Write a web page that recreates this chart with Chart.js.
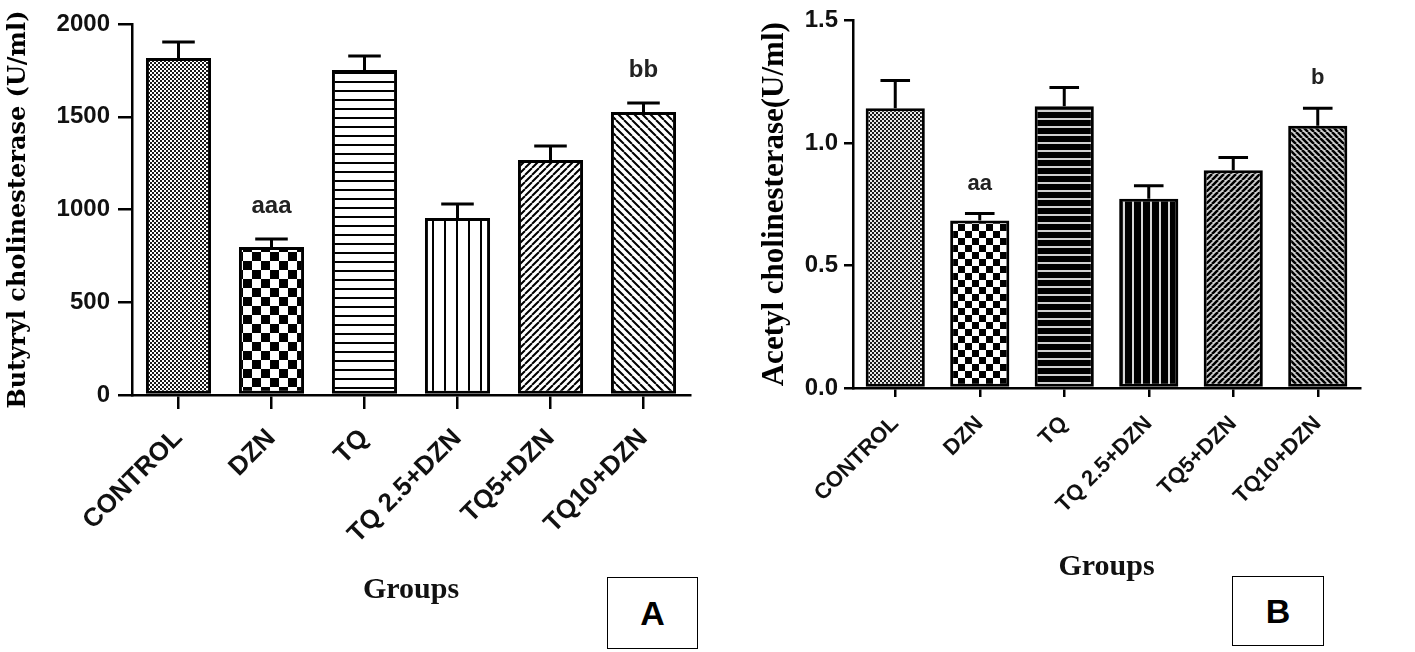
<!DOCTYPE html>
<html><head><meta charset="utf-8">
<script src="https://cdn.jsdelivr.net/npm/chart.js@4.4.0/dist/chart.umd.min.js"></script>
<style>
html,body{margin:0;padding:0;background:#fff;width:1415px;height:652px;overflow:hidden;}
#cA{position:absolute;left:0;top:0;}
#cB{position:absolute;left:720px;top:0;}
.box{position:absolute;border:1.5px solid #000;box-sizing:border-box;font:bold 34px "Liberation Sans",Arial,sans-serif;display:flex;align-items:center;justify-content:center;background:#fff;color:#000;}
#boxA{left:607px;top:577px;width:91px;height:72px;}
#boxB{left:1232px;top:576px;width:92px;height:70px;}
</style></head><body>
<canvas id="cA" width="700" height="652"></canvas>
<canvas id="cB" width="695" height="652"></canvas>
<div class="box" id="boxA">A</div>
<div class="box" id="boxB">B</div>
<script>
// ---- data ----
const categories = ["CONTROL", "DZN", "TQ", "TQ 2.5+DZN", "TQ5+DZN", "TQ10+DZN"];
const butyrylMean = [1817, 798, 1752, 954, 1267, 1526];
const butyrylSEM  = [86, 43, 75, 76, 75, 48];
const butyrylSig  = ["", "aaa", "", "", "", "bb"];
const butyrylTicks = [0, 500, 1000, 1500, 2000];
const acetylMean = [1.142, 0.683, 1.150, 0.772, 0.889, 1.070];
const acetylSEM  = [0.113, 0.029, 0.076, 0.053, 0.052, 0.072];
const acetylSig  = ["", "aa", "", "", "", "b"];
const acetylTicks = [0, 0.5, 1.0, 1.5];
const acetylTickLabels = ["0.0", "0.5", "1.0", "1.5"];

// ---- patterns ----
function tile(w, h, draw) {
  const c = document.createElement('canvas'); c.width = w; c.height = h;
  const x = c.getContext('2d'); draw(x, w, h);
  return document.getElementById('cA').getContext('2d').createPattern(c, 'repeat');
}
function checker(cell, fg, bg) {
  return tile(cell * 2, cell * 2, (x) => { x.fillStyle = bg; x.fillRect(0, 0, cell * 2, cell * 2); x.fillStyle = fg; x.fillRect(0, 0, cell, cell); x.fillRect(cell, cell, cell, cell); });
}
function hlines(p, lw, fg, bg) {
  return tile(4, p, (x) => { x.fillStyle = bg; x.fillRect(0, 0, 4, p); x.fillStyle = fg; x.fillRect(0, 0, 4, lw); });
}
function vlines(p, lw, fg, bg) {
  return tile(p, 4, (x) => { x.fillStyle = bg; x.fillRect(0, 0, p, 4); x.fillStyle = fg; x.fillRect(0, 0, lw, 4); });
}
function diag(p, lw, dir, fg, bg) {
  return tile(p, p, (x) => {
    x.fillStyle = bg; x.fillRect(0, 0, p, p);
    x.strokeStyle = fg; x.lineWidth = lw; x.beginPath();
    for (let k = -1; k <= 1; k++) {
      if (dir === '/') { x.moveTo(k * p, p); x.lineTo(k * p + p, 0); }
      else { x.moveTo(k * p, 0); x.lineTo(k * p + p, p); }
    }
    x.stroke();
  });
}
const W = '#ffffff', K = '#000000';
const fillsA = [checker(2, '#1a1a1a', W), checker(9, K, W), hlines(9, 2, K, W), vlines(12, 2, K, W), diag(7, 2, '/', K, W), diag(8, 2, '\\', K, W)];
const fillsB = [checker(2, '#1a1a1a', '#e8e8e8'), checker(7, K, W), hlines(8, 6, K, '#d0d0d0'), vlines(9, 7, K, '#d8d8d8'), diag(6, 2.5, '/', K, '#cfcfcf'), diag(6, 2.5, '\\', K, '#cfcfcf')];

// ---- error bars + significance letters ----
const errPlugin = {
  id: 'errbars',
  afterDatasetsDraw(chart, args, o) {
    const ctx = chart.ctx, meta = chart.getDatasetMeta(0), ys = chart.scales.y;
    const data = chart.data.datasets[0].data;
    ctx.save();
    meta.data.forEach((bar, i) => {
      const top = ys.getPixelForValue(data[i] + o.sem[i]);
      const base = ys.getPixelForValue(data[i]);
      const hw = bar.width * o.capRatio / 2;
      ctx.strokeStyle = '#000'; ctx.lineWidth = o.lw; ctx.lineCap = 'butt';
      ctx.beginPath(); ctx.moveTo(bar.x, base); ctx.lineTo(bar.x, top);
      ctx.moveTo(bar.x - hw, top); ctx.lineTo(bar.x + hw, top); ctx.stroke();
      if (o.sig[i]) {
        ctx.fillStyle = '#222'; ctx.font = o.sigFont; ctx.textAlign = 'center'; ctx.textBaseline = 'middle';
        ctx.fillText(o.sig[i], bar.x, top - o.sigOffset);
      }
    });
    ctx.restore();
  }
};

function makeChart(id, p) {
  return new Chart(document.getElementById(id), {
    type: 'bar',
    data: { labels: categories, datasets: [{ data: p.mean, backgroundColor: p.fills, borderColor: '#000', borderWidth: 3, borderSkipped: false, barPercentage: 0.7, categoryPercentage: 1.0 }] },
    plugins: [errPlugin],
    options: {
      responsive: false, animation: false, devicePixelRatio: 1,
      layout: { padding: p.pad },
      plugins: { legend: { display: false }, tooltip: { enabled: false },
        errbars: { sem: p.sem, sig: p.sig, capRatio: 0.5, lw: 3, sigOffset: p.sigOffset, sigFont: p.sigFont } },
      scales: {
        x: {
          grid: { offset: false, drawOnChartArea: false, drawTicks: true, tickLength: p.xTick, color: '#000', lineWidth: 2.5 },
          border: { display: true, color: '#000', width: 2.5 },
          ticks: { autoSkip: false, minRotation: p.rot, maxRotation: p.rot, padding: p.xPad, color: '#111', font: { family: '"Liberation Sans", Arial, sans-serif', size: p.xFont, weight: 'bold' } },
          title: { display: true, text: 'Groups', color: '#111', font: { family: '"Liberation Serif", "Times New Roman", serif', size: 30, weight: 'bold' }, padding: { top: 0, bottom: p.groupsPad } },
          afterFit: (s) => { s.height = p.xHeight; }
        },
        y: {
          min: p.ticks[0], max: p.ticks[p.ticks.length - 1],
          afterBuildTicks: (s) => { s.ticks = p.ticks.map(v => ({ value: v })); },
          grid: { drawOnChartArea: false, drawTicks: true, tickLength: p.yTick, color: '#000', lineWidth: 2.5 },
          border: { display: true, color: '#000', width: 2.5 },
          ticks: { padding: p.yPad, color: '#111', font: { family: '"Liberation Sans", Arial, sans-serif', size: 24, weight: 'bold' }, callback: (v, i) => p.tickLabels[i] },
          title: { display: true, text: p.yTitle, color: '#000', font: { family: p.yTitleFamily, size: p.yTitleSize, weight: 'bold' }, padding: { top: p.yTitlePad, bottom: 0 } },
          afterFit: (s) => { s.width = p.yWidth; }
        }
      }
    }
  });
}

makeChart('cA', {
  mean: butyrylMean, sem: butyrylSEM, sig: butyrylSig, fills: fillsA,
  ticks: butyrylTicks, tickLabels: butyrylTicks.map(String),
  pad: { left: 0, right: 10, top: 24, bottom: 0 }, yWidth: 132, xHeight: 257,
  rot: 45, xFont: 26, xPad: 14, xTick: 14, yTick: 14, yPad: 8, groupsPad: 44,
  sigOffset: 33, sigFont: 'bold 24px "Liberation Sans", Arial, sans-serif',
  yTitle: 'Butyryl cholinesterase (U/ml)', yTitleFamily: '"DejaVu Serif", serif', yTitleSize: 24, yTitlePad: 4
});
makeChart('cB', {
  mean: acetylMean, sem: acetylSEM, sig: acetylSig, fills: fillsB,
  ticks: acetylTicks, tickLabels: acetylTickLabels,
  pad: { left: 0, right: 55, top: 15, bottom: 0 }, yWidth: 133, xHeight: 264,
  rot: 45, xFont: 22, xPad: 14, xTick: 9, yTick: 9, yPad: 6, groupsPad: 67,
  sigOffset: 30, sigFont: 'bold 22px "Liberation Sans", Arial, sans-serif',
  yTitle: 'Acetyl cholinesterase(U/ml)', yTitleFamily: '"Liberation Serif", "Times New Roman", serif', yTitleSize: 31, yTitlePad: 36
});
</script>
</body></html>
